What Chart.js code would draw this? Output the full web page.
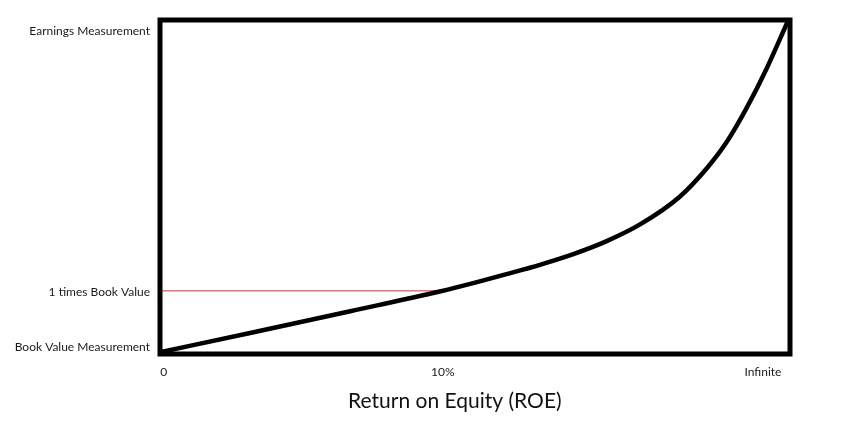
<!DOCTYPE html>
<html>
<head>
<meta charset="utf-8">
<script src="https://cdn.jsdelivr.net/npm/chart.js@4/dist/chart.umd.min.js"></script>
<style>
  html, body { margin: 0; padding: 0; background: #ffffff; }
  #wrap { width: 860px; height: 424px; position: relative; }
</style>
</head>
<body>
<div id="wrap"><canvas id="c" width="860" height="424"></canvas></div>
<script>
// ---- data ----
const curveX = [0.2, 14.3, 30.2, 44.4, 49.7, 55.0, 60.3, 65.6, 70.9, 76.2, 82.5, 86.8, 90.0, 93.1, 96.3, 99.6];
const curveY = [0.6, 6.3, 12.8, 18.7, 21.2, 23.9, 26.7, 29.9, 33.8, 38.8, 47.1, 55.6, 63.6, 73.6, 85.5, 99.4];

const refLineX = [0, 44.9];
const refLineY = [18.9, 18.9];

const xTickValues = [0.6, 44.9, 95.7];
const xTickLabels = ['0', '10%', 'Infinite'];

const yTickValues = [2.1, 18.6, 96.7];
const yTickLabels = ['Book Value Measurement', '1 times Book Value', 'Earnings Measurement'];

const xAxisTitle = 'Return on Equity (ROE)';

// ---- chart ----
const FONT = 'Lato, "Open Sans", sans-serif';

const frame = {
  id: 'frame',
  afterDatasetsDraw(chart) {
    const a = chart.chartArea, ctx = chart.ctx;
    ctx.save();
    ctx.strokeStyle = '#000';
    ctx.lineWidth = 5;
    ctx.lineJoin = 'miter';
    ctx.strokeRect(a.left, a.top, a.right - a.left, a.bottom - a.top);
    ctx.restore();
  }
};

const bottomTitle = {
  id: 'bottomTitle',
  afterDraw(chart) {
    const a = chart.chartArea, ctx = chart.ctx;
    ctx.save();
    ctx.fillStyle = '#111';
    ctx.font = '21px ' + FONT;
    ctx.textAlign = 'center';
    ctx.textBaseline = 'alphabetic';
    ctx.fillText(xAxisTitle, a.left + (a.right - a.left) * 0.468, a.bottom + 54);
    ctx.restore();
  }
};

new Chart(document.getElementById('c'), {
  type: 'scatter',
  data: {
    datasets: [
      {
        label: 'ROE curve',
        data: curveX.map((x, i) => ({ x: x, y: curveY[i] })),
        showLine: true,
        borderColor: '#000',
        borderWidth: 4.5,
        pointRadius: 0,
        cubicInterpolationMode: 'monotone',
        fill: false,
        order: 1
      },
      {
        label: '1 times Book Value',
        data: refLineX.map((x, i) => ({ x: x, y: refLineY[i] })),
        showLine: true,
        borderColor: '#b83a3a',
        borderWidth: 1,
        pointRadius: 0,
        fill: false,
        order: 2
      }
    ]
  },
  options: {
    responsive: false,
    animation: false,
    layout: { padding: { top: 20, right: 70, left: 0, bottom: 0 } },
    plugins: { legend: { display: false }, tooltip: { enabled: false }, title: { display: false } },
    scales: {
      x: {
        type: 'linear',
        min: 0, max: 100,
        grid: { display: false, drawTicks: false },
        border: { display: false },
        afterBuildTicks(scale) { scale.ticks = xTickValues.map(v => ({ value: v })); },
        afterFit(scale) { scale.height = 70; },
        ticks: {
          autoSkip: false,
          maxRotation: 0,
          padding: 11,
          color: '#1a1a1a',
          font: { family: FONT, size: 12 },
          callback: (v, i) => xTickLabels[i]
        }
      },
      y: {
        type: 'linear',
        min: 0, max: 100,
        grid: { display: false, drawTicks: false },
        border: { display: false },
        afterBuildTicks(scale) { scale.ticks = yTickValues.map(v => ({ value: v })); },
        afterFit(scale) { scale.width = 160; },
        ticks: {
          autoSkip: false,
          padding: 10,
          color: '#1a1a1a',
          font: { family: FONT, size: 12 },
          callback: (v, i) => yTickLabels[i]
        }
      }
    }
  },
  plugins: [frame, bottomTitle]
});
</script>
</body>
</html>
